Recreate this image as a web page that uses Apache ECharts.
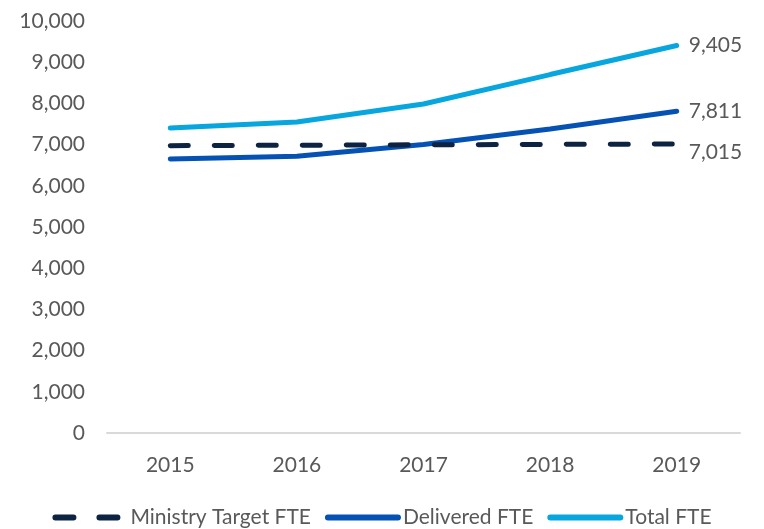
<!DOCTYPE html>
<html>
<head>
<meta charset="utf-8">
<script src="https://cdn.jsdelivr.net/npm/echarts@6/dist/echarts.min.js"></script>
<style>
  html, body { margin: 0; padding: 0; background: #fff; }
  #chart { width: 764px; height: 529px; }
</style>
</head>
<body>
<div id="chart"></div>
<script>
const years = ['2015', '2016', '2017', '2018', '2019'];
const targetFte = [6975, 6985, 6995, 7005, 7015];
const deliveredFte = [6650, 6720, 7000, 7380, 7811];
const totalFte = [7400, 7550, 7985, 8700, 9405];
const yTicks = { min: 0, max: 10000, interval: 1000 };

const textColor = '#595959';
const font = 'Lato, "Open Sans", sans-serif';
const fmt = (v) => Number(v).toLocaleString('en-US');

const chart = echarts.init(document.getElementById('chart'));

function endLabel(dy) {
  return {
    show: true,
    color: textColor,
    fontFamily: font,
    fontSize: 21,
    distance: 12,
    offset: [0, dy],
    formatter: (p) => fmt(p.value)
  };
}

chart.setOption({
  animation: false,
  backgroundColor: '#fff',
  textStyle: { fontFamily: font, color: textColor },
  grid: { left: 107, right: 24, top: 21, bottom: 96 },
  legend: {
    bottom: -4,
    left: 'center',
    itemWidth: 70,
    itemHeight: 6,
    itemGap: 14,
    lineStyle: { width: 6 },
    itemStyle: { opacity: 0 },
    textStyle: { color: textColor, fontSize: 21, fontFamily: font },
    data: ['Ministry Target FTE', 'Delivered FTE', 'Total FTE']
  },
  xAxis: {
    type: 'category',
    data: years,
    axisTick: { show: false },
    axisLine: { lineStyle: { color: '#d9d9d9', width: 2 } },
    axisLabel: { color: textColor, fontSize: 21, margin: 22 }
  },
  yAxis: {
    type: 'value',
    min: yTicks.min,
    max: yTicks.max,
    interval: yTicks.interval,
    axisLine: { show: false },
    axisTick: { show: false },
    splitLine: { show: false },
    axisLabel: { color: textColor, fontSize: 21, margin: 22, formatter: fmt }
  },
  series: [
    {
      name: 'Ministry Target FTE',
      type: 'line',
      data: targetFte,
      symbol: 'none',
      color: '#0d2342',
      lineStyle: { width: 5, type: [18, 26], cap: 'round', color: '#0d2342' },
      endLabel: endLabel(8),
      z: 3
    },
    {
      name: 'Delivered FTE',
      type: 'line',
      data: deliveredFte,
      symbol: 'none',
      color: '#0652b4',
      lineStyle: { width: 5, cap: 'round', color: '#0652b4' },
      endLabel: endLabel(0),
      z: 2
    },
    {
      name: 'Total FTE',
      type: 'line',
      data: totalFte,
      symbol: 'none',
      color: '#08a6df',
      lineStyle: { width: 5, cap: 'round', color: '#08a6df' },
      endLabel: endLabel(0),
      z: 2
    }
  ]
});
</script>
</body>
</html>
